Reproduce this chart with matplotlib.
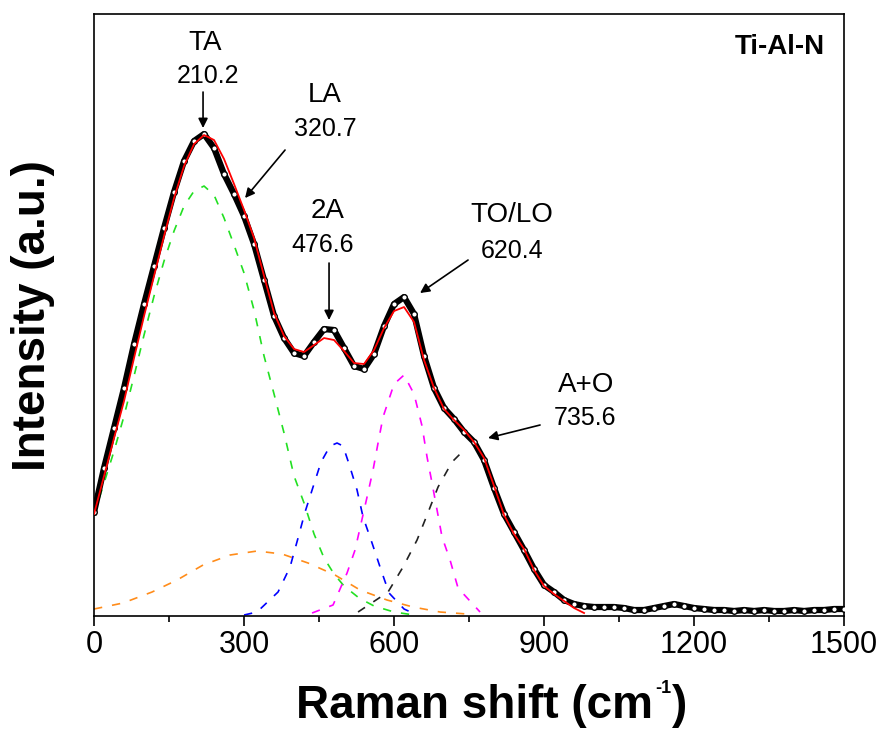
import matplotlib.pyplot as plt
from matplotlib.ticker import MultipleLocator

plt.rcParams['font.family'] = ['Liberation Sans', 'DejaVu Sans']

# measured spectrum (Raman shift in cm-1, intensity in a.u.)
data_x = [0, 20, 40, 60, 80, 100, 120, 140, 160, 180, 200, 220, 240, 260, 280,
          300, 320, 340, 360, 380, 400, 420, 440, 460, 480, 500, 520, 540, 560,
          580, 600, 620, 640, 660, 680, 700, 720, 740, 760, 780, 800, 820, 840,
          860, 880, 900, 920, 940, 960, 980, 1000, 1020, 1040, 1060, 1080, 1100,
          1120, 1140, 1160, 1180, 1200, 1220, 1240, 1260, 1280, 1300, 1320, 1340,
          1360, 1380, 1400, 1420, 1440, 1460, 1480, 1500]
data_y = [104, 148, 188, 228, 272, 312, 350, 388, 424, 455, 475, 482, 468, 442,
          422, 400, 372, 336, 300, 278, 263, 260, 274, 287, 286, 268, 250, 247,
          262, 290, 312, 319, 302, 260, 228, 208, 197, 184, 174, 156, 128, 102,
          84, 66, 47, 31, 24, 16, 12, 10, 9, 9, 9, 8, 6, 6, 8, 10, 12, 10, 8, 7,
          6, 6, 5, 6, 5, 6, 5, 5, 6, 5, 6, 6, 7, 7]

# cumulative fit
fit_x = [0, 20, 40, 60, 80, 100, 120, 140, 160, 180, 200, 220, 240, 260, 280,
         300, 320, 340, 360, 380, 400, 420, 440, 460, 480, 500, 520, 540, 560,
         580, 600, 620, 640, 660, 680, 700, 720, 740, 760, 780, 800, 820, 840,
         860, 880, 900, 920, 940, 960, 980]
fit_y = [102, 140, 178, 215, 258, 300, 340, 380, 418, 450, 472, 481, 476, 457,
         432, 406, 378, 340, 303, 280, 267, 264, 271, 278, 276, 265, 253, 252,
         266, 288, 305, 309, 294, 256, 228, 207, 196, 186, 174, 158, 130, 101,
         82, 67, 46, 30, 22, 15, 8, 3]

# fitted components
ta_x = [0, 20, 40, 60, 80, 100, 120, 140, 160, 180, 200, 220, 240, 260, 280,
        300, 320, 340, 360, 380, 400, 420, 440, 460, 480, 500, 530, 560, 600, 640]
ta_y = [101, 133, 165, 200, 240, 281, 320, 355, 385, 410, 425, 430, 421, 398,
        371, 343, 306, 260, 222, 183, 140, 113, 82, 58, 42, 30, 18, 10, 4, 1]

la_x = [0, 58, 116, 166, 218, 272, 326, 376, 428, 482, 532, 586, 638, 692, 746]
la_y = [7, 13, 24, 36, 51, 61, 65, 62, 53, 41, 26, 16, 9, 4, 2]

a2_x = [300, 326, 368, 392, 408, 422, 438, 454, 472, 486, 498, 510, 526, 538,
        556, 574, 590, 620, 642]
a2_y = [1, 4, 24, 49, 78, 104, 129, 154, 170, 173, 170, 152, 126, 99, 73, 46,
        23, 7, 2]

tolo_x = [436, 478, 506, 522, 546, 558, 568, 578, 600, 620, 640, 656, 666, 676,
          686, 696, 712, 728, 772]
tolo_y = [3, 11, 43, 66, 119, 146, 173, 199, 232, 241, 222, 190, 159, 133, 106,
          79, 56, 28, 4]

ao_x = [528, 588, 618, 646, 666, 688, 716, 736]
ao_y = [4, 24, 49, 76, 101, 129, 154, 164]

# peak labels: (name, position, text xy, number xy, arrow tail, arrow tip)
labels = [
    ("TA", "210.2", (222, 573), (228, 540), (218, 524), (218, 488)),
    ("LA", "320.7", (462, 521), (462, 487), (382, 466), (302, 418)),
    ("2A", "476.6", (468, 405), (458, 371), (470, 353), (470, 296)),
    ("TO/LO", "620.4", (836, 401), (836, 365), (748, 356), (652, 323)),
    ("A+O", "735.6", (984, 231), (982, 198), (892, 191), (788, 178)),
]

fig = plt.figure(figsize=(8.83, 7.31), dpi=100)
ax = fig.add_axes([0.1065, 0.1573, 0.8494, 0.8235])

dash = (0, (5, 6))
ax.plot(ta_x, ta_y, color='#22e022', lw=1.2, ls=dash, zorder=2)
ax.plot(la_x, la_y, color='#ff8c1a', lw=1.2, ls=dash, zorder=2)
ax.plot(a2_x, a2_y, color='#0000ff', lw=1.2, ls=dash, zorder=2)
ax.plot(tolo_x, tolo_y, color='#ff00ff', lw=1.2, ls=dash, zorder=2)
ax.plot(ao_x, ao_y, color='#222222', lw=1.2, ls=dash, zorder=2)

ax.plot(data_x, data_y, color='k', lw=4.5, marker='o', ms=4,
        mfc='white', mec='k', mew=1.0, zorder=3)
ax.plot(fit_x, fit_y, color='red', lw=1.3, zorder=4)

for name, num, name_xy, num_xy, tail, tip in labels:
    ax.text(*name_xy, name, fontsize=20, ha='center', va='center')
    ax.text(*num_xy, num, fontsize=18, ha='center', va='center')
    ax.annotate('', xy=tip, xytext=tail,
                arrowprops=dict(arrowstyle='-|>', color='k', lw=1.2,
                                mutation_scale=14, shrinkA=0, shrinkB=0))

ax.text(1372, 569, "Ti-Al-N", fontsize=20, fontweight='bold',
        ha='center', va='center')

ax.set_xlim(0, 1500)
ax.set_ylim(0, 602)
ax.set_yticks([])
ax.xaxis.set_major_locator(MultipleLocator(300))
ax.xaxis.set_minor_locator(MultipleLocator(150))
ax.tick_params(axis='x', which='major', direction='out', length=7, width=1.2,
               labelsize=22, pad=3)
ax.tick_params(axis='x', which='minor', direction='out', length=4, width=1.2)
for s in ax.spines.values():
    s.set_linewidth(1.2)

# x label in pieces so the small "-1" superscript sits like the original
fig.text(653 / 883, 1 - 718 / 731, 'Raman shift (cm', fontsize=33,
         fontweight='bold', ha='right', va='baseline')
fig.text(655 / 883, 1 - 693 / 731, '-1', fontsize=13,
         fontweight='bold', ha='left', va='baseline')
fig.text(672 / 883, 1 - 718 / 731, ')', fontsize=33,
         fontweight='bold', ha='left', va='baseline')
fig.text(33 / 883, 1 - 316 / 731, 'Intensity (a.u.)', fontsize=33,
         fontweight='bold', ha='center', va='center', rotation=90)

fig.savefig('out.png', dpi=100)
